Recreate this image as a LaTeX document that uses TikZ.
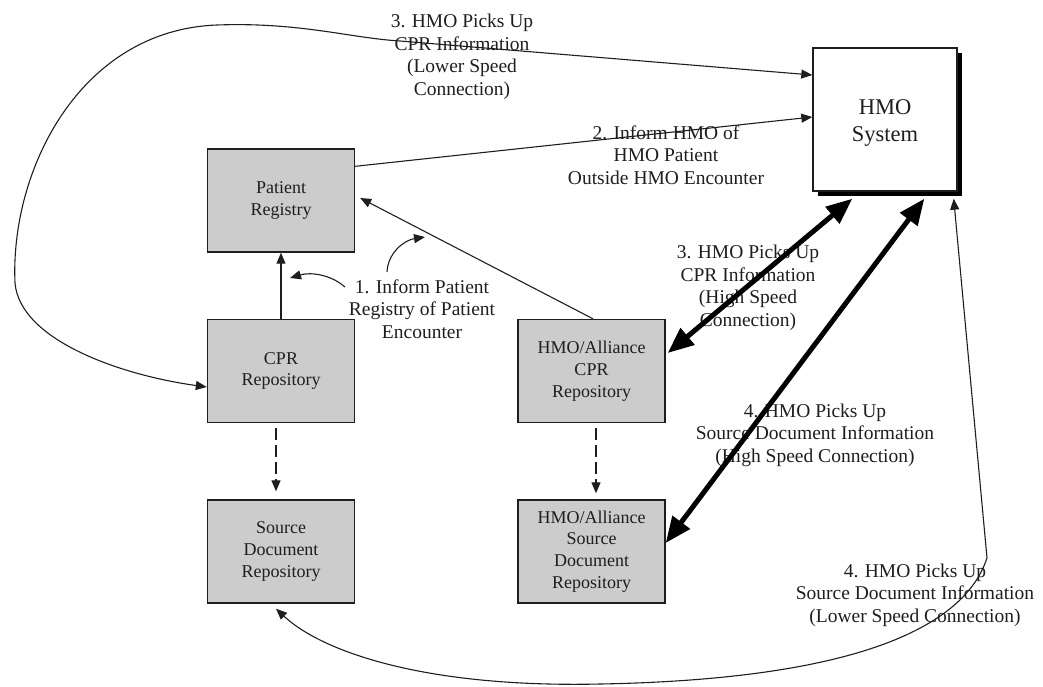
\documentclass[tikz,border=0pt]{standalone}
\usepackage{fontspec}
\setmainfont{Liberation Serif}
\usetikzlibrary{arrows.meta,calc,shadows}
\definecolor{boxgray}{RGB}{204,204,204}
\definecolor{inkgray}{RGB}{30,30,30}

\begin{document}
\begin{tikzpicture}[x=1pt,y=-1pt,
  box/.style={draw=inkgray, line width=1.4pt, fill=boxgray, minimum width=147pt,
    minimum height=103pt, inner sep=0pt, align=center, text=inkgray,
    font=\fontsize{18}{21.7}\selectfont},
  lbl/.style={align=center, inner sep=0pt, text=inkgray,
    font=\fontsize{19.5}{22.5}\selectfont},
  smalltip/.tip={Triangle[length=11pt,width=9pt]},
  bigtip/.tip={Triangle[length=26pt,width=21pt]},
  link/.style={draw=inkgray, line width=1.1pt, -smalltip},
  linkboth/.style={draw=inkgray, line width=1.1pt, smalltip-smalltip},
  fastlink/.style={draw=black, line width=5pt, bigtip-bigtip},
  copylink/.style={draw=inkgray, line width=1.2pt, dash pattern=on 12pt off 5pt, -smalltip},
]
\useasboundingbox (0,0) rectangle (1043,686);

% repositories and registry
\node[box] (pr)   at (281,200.5) {Patient\\Registry};
\node[box] (cpr)  at (281,371)   {CPR\\Repository};
\node[box] (sdr)  at (281,551.5) {Source\\Document\\Repository};
\node[box] (hcpr) at (591.5,371) {HMO/Alliance\\CPR\\Repository};
\node[box] (hsdr) at (591.5,551.5) {HMO/Alliance\\Source\\Document\\Repository};

% HMO system with a solid drop shadow
\node[draw=inkgray, line width=1.4pt, fill=white, minimum width=144pt, minimum height=143pt,
      inner sep=0pt, align=center, text=inkgray, font=\fontsize{22.5}{28}\selectfont,
      general shadow={fill=black, shadow xshift=5pt, shadow yshift=-5pt}]
      (hmo) at (885,119.5)
      {\raisebox{-3pt}[\height][\depth]{\begin{tabular}{@{}c@{}}HMO\\[-1pt]System\end{tabular}}};

% labels
\node[lbl] (l3a) at (462,57)  {3. HMO Picks Up\\CPR Information\\(Lower Speed\\Connection)};
\node[lbl] (l2)  at (666,155) {2. Inform HMO of\\HMO Patient\\Outside HMO Encounter};
\node[lbl] (l1)  at (422,309) {1. Inform Patient\\Registry of Patient\\Encounter};
\node[lbl] (l3b) at (748,288) {3. HMO Picks Up\\CPR Information\\(High Speed\\Connection)};
\node[lbl] (l4a) at (815,435) {4. HMO Picks Up\\Source Document Information\\(High Speed Connection)};
\node[lbl] (l4b) at (915,595) {4. HMO Picks Up\\Source Document Information\\(Lower Speed Connection)};

% step 1: encounter reported to the registry
\draw[link] (cpr.north) -- (pr.south);
\draw[link] ($(hcpr.north)+(1.5,0)$) -- ($(pr.east)+(5,-2.5)$);
\coordinate (p1s) at (345,287);
\coordinate (p1t) at (290,278);
\coordinate (p2s) at (387,272);
\coordinate (p2t) at (425,237);
\draw[link] (p1s) .. controls (330,274) and (310,272) .. (p1t);
\draw[link] (p2s) .. controls (388,252) and (405,240) .. (p2t);

% step 2: registry informs the HMO
\draw[link] ($(pr.north east)+(0,18)$) -- ($(hmo.west)+(0,-2.5)$);

% copies into the source document repositories
\draw[copylink] ($(cpr.south)+(-5,5)$) -- ($(sdr.north)+(-5,-8)$);
\draw[copylink] ($(hcpr.south)+(4.5,5)$) -- ($(hsdr.north)+(4.5,-6)$);

% high speed connections
\draw[fastlink] ($(hmo.south west)+(40,7)$) -- ($(hcpr.east)+(2,-18)$);
\draw[fastlink] ($(hmo.south west)+(112,7)$) -- ($(hsdr.east)+(0,-8.5)$);

% lower speed connections
\draw[linkboth] ($(hmo.west)+(0,-44.5)$) -- (400,41)
  .. controls (350,38) and (300,22) .. (217,25)
  .. controls (80,30) and (10,170) .. (15,283)
  .. controls (20,340) and (120,375) .. ($(cpr.west)+(0,16)$);
\draw[linkboth] ($(hmo.south east)+(-4,7)$) -- (987,558)
  .. controls (960,640) and (820,680) .. (600,684)
  .. controls (420,688) and (320,650) .. ($(sdr.south)+(-5,5)$);
\end{tikzpicture}
\end{document}
